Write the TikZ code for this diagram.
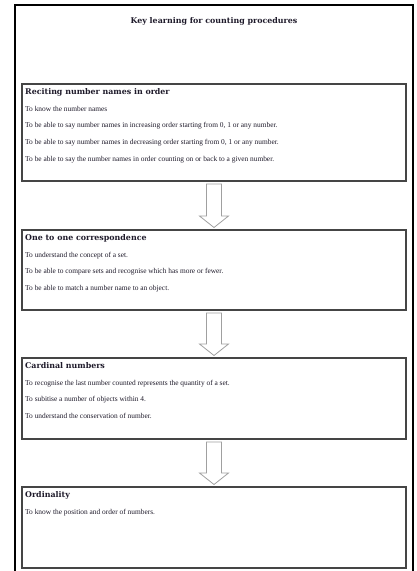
\documentclass[tikz,border=0pt]{standalone}
\usepackage{fontspec}
\setmainfont{Liberation Serif}
\newfontfamily\headfont{DejaVu Serif}
\usetikzlibrary{calc}
\definecolor{boxline}{HTML}{454545}
\definecolor{arrowline}{HTML}{A0A0A0}
\definecolor{inktext}{HTML}{1E1A2A}
\newcommand\boxhead[1]{{\headfont\bfseries\fontsize{7.9}{16.6}\selectfont #1}}
\newcommand\flowdownarrow[2]{%
  \draw[blockarrow]
    ($(#1.south)+(-7.5,3)$) -- ($(#2.north)+(-7.5,-14)$) -- ($(#2.north)+(-14.5,-14)$)
    -- ($(#2.north)+(0,-2.5)$)
    -- ($(#2.north)+(14.5,-14)$) -- ($(#2.north)+(7.5,-14)$) -- ($(#1.south)+(7.5,3)$) -- cycle;}
\begin{document}
\begin{tikzpicture}[x=1pt,y=-1pt,
  box/.style={draw=boxline, line width=1.1pt, minimum width=384pt, anchor=north west,
    inner sep=0pt, outer sep=0pt, fill=white},
  boxtext/.style={anchor=north west, align=left, inner sep=0pt, text=inktext,
    font=\fontsize{7.4}{16.6}\selectfont},
  blockarrow/.style={draw=arrowline, line width=0.8pt, fill=white, line join=miter},
  frame/.style={draw=black, line width=2.2pt}]
\useasboundingbox (0,0) rectangle (417,571);
\coordinate (fbl) at (15,575);
\coordinate (ftl) at (15,5);
\coordinate (ftr) at (413,5);
\coordinate (fbr) at (413,575);
\draw[frame] (fbl) -- (ftl) -- (ftr) -- (fbr);
\node[font=\headfont\bfseries\fontsize{7.9}{9}\selectfont, text=inktext] (title) at (214,21) {Key learning for counting procedures};

\node[box, minimum height=97pt] (b1) at (22,84) {};
\node[box, minimum height=80pt] (b2) at (22,230) {};
\node[box, minimum height=81pt] (b3) at (22,358) {};
\node[box, minimum height=81pt] (b4) at (22,487) {};

\node[boxtext] (t1) at ($(b1.north west)+(3,4.5)$) {\boxhead{Reciting number names in order}\\
To know the number names\\
To be able to say number names in increasing order starting from 0, 1 or any number.\\
To be able to say number names in decreasing order starting from 0, 1 or any number.\\
To be able to say the number names in order counting on or back to a given number.};

\node[boxtext] (t2) at ($(b2.north west)+(3,4.5)$) {\boxhead{One to one correspondence}\\
To understand the concept of a set.\\
To be able to compare sets and recognise which has more or fewer.\\
To be able to match a number name to an object.};

\node[boxtext] (t3) at ($(b3.north west)+(3,4.5)$) {\boxhead{Cardinal numbers}\\
To recognise the last number counted represents the quantity of a set.\\
To subitise a number of objects within 4.\\
To understand the conservation of number.};

\node[boxtext] (t4) at ($(b4.north west)+(3,4.5)$) {\boxhead{Ordinality}\\
To know the position and order of numbers.};

\flowdownarrow{b1}{b2}
\flowdownarrow{b2}{b3}
\flowdownarrow{b3}{b4}
\end{tikzpicture}
\end{document}
